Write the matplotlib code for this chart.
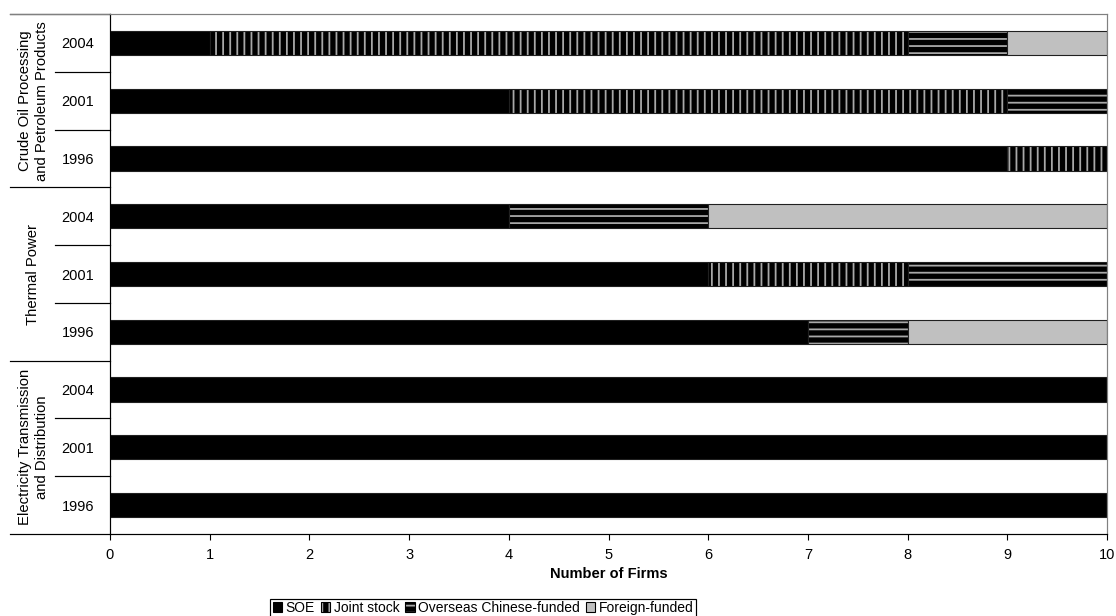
import numpy as np
import matplotlib
matplotlib.use("Agg")
import matplotlib.pyplot as plt
from matplotlib.patches import Patch

# hatch spacing depends on dpi, so draw at 85 dpi and size everything in pixels
DPI = 85


def pt(px):
    return px * 72.0 / DPI


plt.rcParams['font.family'] = ['Liberation Sans', 'DejaVu Sans']
plt.rcParams['hatch.linewidth'] = pt(1.8)

# bottom to top
groups = ["Electricity Transmission\nand Distribution", "Thermal Power",
          "Crude Oil Processing\nand Petroleum Products"]
years = ["1996", "2001", "2004"]
series = ["SOE", "Joint stock", "Overseas Chinese-funded", "Foreign-funded"]

soe = [10, 10, 10, 7, 6, 4, 9, 4, 1]
joint = [0, 0, 0, 0, 2, 0, 1, 5, 7]
overseas = [0, 0, 0, 1, 2, 2, 0, 1, 1]
foreign = [0, 0, 0, 2, 0, 4, 0, 0, 1]

face = ["black", "black", "black", "#c0c0c0"]
hatches = [None, "||", "--", None]
fs = pt(14.6)

fig = plt.figure(figsize=(1116 / DPI, 616 / DPI), dpi=DPI)
ax = fig.add_axes([110 / 1116, 1 - 534 / 616, 997 / 1116, 520 / 616])

y = np.arange(9)
left = np.zeros(9)
h = 0.42
for vals, fc, hat in zip([soe, joint, overseas, foreign], face, hatches):
    vals = np.array(vals, dtype=float)
    if hat:
        ax.barh(y, vals, left=left, height=h, color=fc, hatch=hat,
                edgecolor="#a8a8a8", linewidth=0)
        ax.barh(y, vals, left=left, height=h, fill=False,
                edgecolor="#202020", linewidth=pt(1.1))
    else:
        ax.barh(y, vals, left=left, height=h, color=fc,
                edgecolor="#202020", linewidth=pt(1.1))
    left += vals

ax.set_xlim(0, 10)
ax.set_ylim(-0.5, 8.5)
ax.set_xticks(range(11))
ax.set_yticks(y)
ax.set_yticklabels(years * 3)
ax.tick_params(axis="y", length=0, pad=pt(16), labelsize=fs)
ax.tick_params(axis="x", direction="out", length=pt(6), width=pt(1.1),
               labelsize=fs, pad=pt(8))
ax.set_xlabel("Number of Firms", fontweight="bold", fontsize=fs, labelpad=pt(5))

for s in ["top", "right"]:
    ax.spines[s].set_color("#808080")
for s in ax.spines.values():
    s.set_linewidth(pt(1.2))
ax.spines["left"].set_color("black")
ax.spines["bottom"].set_color("black")

# multi-level category lines
tr = ax.get_yaxis_transform()
for k in range(10):
    yy = k - 0.5
    x0 = -0.1 if k % 3 == 0 else -0.055
    ax.plot([x0, 0], [yy, yy], color="black", lw=pt(1.2), transform=tr, clip_on=False)
ax.plot([-0.1, 0], [8.5, 8.5], color="#808080", lw=pt(1.2), transform=tr, clip_on=False)

for i, g in enumerate(groups):
    ax.text(-0.077, 3 * i + 1, g, rotation=90, ha="center", va="center",
            fontsize=pt(14.9), transform=tr, linespacing=1.25)

handles = []
for fc, hat in zip(face, hatches):
    if hat:
        handles.append((Patch(facecolor=fc, hatch=hat, edgecolor="#a8a8a8", linewidth=0),
                        Patch(fill=False, edgecolor="black", linewidth=pt(1.1))))
    else:
        handles.append(Patch(facecolor=fc, edgecolor="black", linewidth=pt(1.1)))
fig.legend(handles, series, loc="center", bbox_to_anchor=(483 / 1116, 1 - 608 / 616),
           ncol=4, fontsize=pt(13.9), frameon=True, fancybox=False, edgecolor="black",
           framealpha=1, handlelength=0.7, handleheight=0.7, handletextpad=0.25,
           columnspacing=0.4, borderpad=0.15, borderaxespad=0)

fig.savefig("out.png", dpi=DPI)
